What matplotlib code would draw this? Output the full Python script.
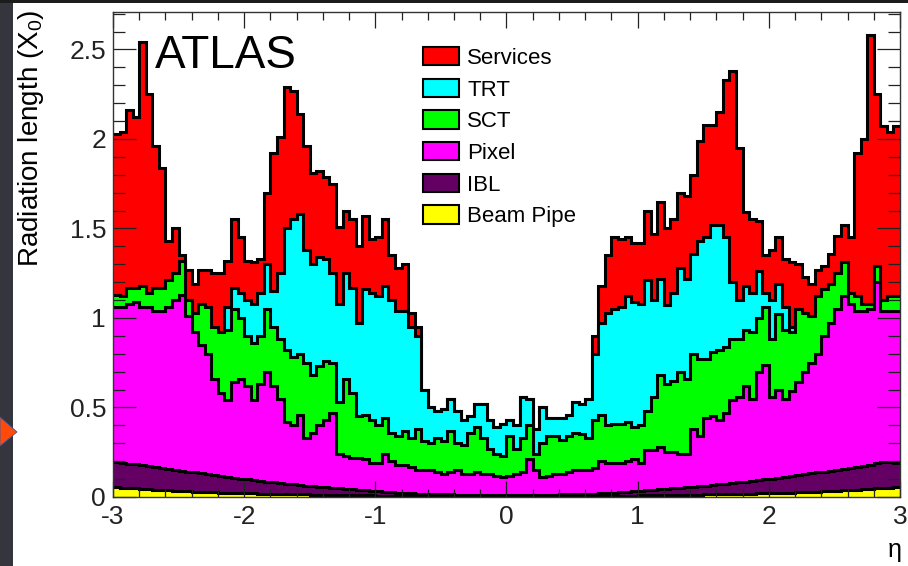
import matplotlib
matplotlib.use("Agg")
import matplotlib.pyplot as plt
import matplotlib.patches as mpatches
import numpy as np

plt.rcParams["font.family"] = ["Liberation Sans", "DejaVu Sans"]
plt.rcParams["mathtext.default"] = "regular"
plt.rcParams["axes.unicode_minus"] = False

# eta binning of the material scan (120 bins of 0.05)
eta_edges = np.linspace(-3, 3, 121)

# stacked tops (cumulative radiation length, X0)
services_top = [
    2.03, 2.04, 2.16, 2.12, 2.54, 2.25, 1.96, 1.84, 1.43, 1.50, 1.35, 1.27, 1.19, 1.27, 1.27, 1.25, 1.25, 1.32, 1.55, 1.45,
    1.32, 1.31, 1.33, 1.70, 1.92, 2.01, 2.29, 2.27, 2.14, 1.96, 1.81, 1.82, 1.79, 1.75, 1.51, 1.60, 1.55, 1.40, 1.57, 1.44,
    1.45, 1.55, 1.35, 1.28, 1.30, 1.03, 0.95, 0.60, 0.50, 0.48, 0.49, 0.55, 0.48, 0.43, 0.45, 0.52, 0.52, 0.43, 0.39, 0.41,
    0.43, 0.40, 0.56, 0.55, 0.38, 0.50, 0.44, 0.44, 0.44, 0.46, 0.53, 0.52, 0.55, 0.90, 1.18, 1.35, 1.45, 1.44, 1.45, 1.42,
    1.42, 1.60, 1.47, 1.65, 1.50, 1.55, 1.70, 1.68, 1.80, 1.99, 2.08, 2.08, 2.15, 2.33, 2.38, 1.95, 1.59, 1.55, 1.54, 1.35,
    1.38, 1.45, 1.33, 1.31, 1.30, 1.23, 1.19, 1.27, 1.29, 1.36, 1.46, 1.52, 1.45, 1.92, 2.00, 2.58, 2.25, 2.07, 2.04, 2.07,
]
trt_top = [
    1.13, 1.12, 1.17, 1.17, 1.18, 1.14, 1.17, 1.17, 1.21, 1.25, 1.32, 1.10, 1.03, 1.08, 1.06, 0.95, 0.92, 1.06, 1.17, 1.14,
    1.10, 1.08, 1.14, 1.30, 1.15, 1.25, 1.50, 1.55, 1.58, 1.38, 1.30, 1.34, 1.33, 1.25, 1.08, 1.25, 1.17, 0.97, 1.16, 1.14,
    1.12, 1.18, 1.10, 1.04, 1.04, 0.95, 0.90, 0.60, 0.50, 0.48, 0.49, 0.55, 0.48, 0.43, 0.45, 0.52, 0.52, 0.43, 0.39, 0.41,
    0.43, 0.40, 0.56, 0.55, 0.38, 0.50, 0.44, 0.44, 0.44, 0.46, 0.53, 0.52, 0.55, 0.80, 0.97, 1.03, 1.05, 1.06, 1.12, 1.09,
    1.08, 1.21, 1.10, 1.22, 1.07, 1.14, 1.28, 1.22, 1.36, 1.43, 1.45, 1.52, 1.52, 1.45, 1.20, 1.10, 1.18, 1.14, 1.26, 1.14,
    1.10, 1.19, 1.06, 0.95, 1.05, 1.03, 1.01, 1.12, 1.16, 1.19, 1.25, 1.31, 1.14, 1.12, 1.08, 1.08, 1.29, 1.10, 1.12, 1.12,
]
sct_top = [
    1.13, 1.12, 1.17, 1.17, 1.18, 1.14, 1.17, 1.17, 1.21, 1.25, 1.32, 1.10, 1.03, 1.08, 1.06, 0.95, 0.92, 0.93, 1.05, 1.00,
    0.90, 0.86, 0.90, 1.05, 0.95, 0.88, 0.82, 0.78, 0.80, 0.75, 0.68, 0.73, 0.76, 0.75, 0.53, 0.66, 0.58, 0.45, 0.46, 0.43,
    0.40, 0.44, 0.36, 0.34, 0.37, 0.33, 0.38, 0.31, 0.30, 0.33, 0.31, 0.37, 0.30, 0.29, 0.36, 0.39, 0.33, 0.27, 0.24, 0.23,
    0.34, 0.27, 0.33, 0.40, 0.24, 0.30, 0.34, 0.34, 0.32, 0.34, 0.36, 0.35, 0.33, 0.43, 0.46, 0.40, 0.41, 0.41, 0.42, 0.39,
    0.40, 0.48, 0.56, 0.68, 0.63, 0.65, 0.70, 0.66, 0.80, 0.77, 0.77, 0.81, 0.82, 0.84, 0.88, 0.88, 0.93, 0.92, 1.00, 1.06,
    0.88, 1.02, 0.93, 0.92, 1.05, 1.03, 1.01, 1.12, 1.16, 1.19, 1.25, 1.31, 1.14, 1.12, 1.08, 1.08, 1.29, 1.10, 1.12, 1.12,
]
pixel_top = [
    1.06, 1.06, 1.08, 1.09, 1.06, 1.06, 1.04, 1.04, 1.06, 1.10, 1.13, 1.01, 0.92, 0.85, 0.80, 0.66, 0.58, 0.54, 0.64, 0.66,
    0.62, 0.54, 0.63, 0.70, 0.62, 0.55, 0.42, 0.40, 0.46, 0.33, 0.36, 0.40, 0.43, 0.47, 0.24, 0.23, 0.22, 0.22, 0.21, 0.19,
    0.19, 0.24, 0.20, 0.18, 0.18, 0.17, 0.15, 0.15, 0.15, 0.14, 0.13, 0.14, 0.15, 0.13, 0.13, 0.14, 0.13, 0.13, 0.12, 0.11,
    0.12, 0.13, 0.14, 0.21, 0.15, 0.11, 0.12, 0.13, 0.13, 0.14, 0.15, 0.15, 0.15, 0.16, 0.20, 0.19, 0.19, 0.19, 0.20, 0.21,
    0.19, 0.26, 0.26, 0.28, 0.25, 0.25, 0.24, 0.24, 0.38, 0.34, 0.44, 0.45, 0.43, 0.47, 0.54, 0.56, 0.62, 0.55, 0.70, 0.74,
    0.56, 0.60, 0.55, 0.59, 0.64, 0.70, 0.75, 0.80, 0.90, 0.97, 1.05, 1.12, 1.08, 1.04, 1.04, 1.05, 1.20, 1.04, 1.04, 1.04,
]
ibl_top = [
    0.195, 0.190, 0.186, 0.182, 0.177, 0.172, 0.167, 0.162, 0.157, 0.152, 0.147, 0.142, 0.137, 0.132, 0.127, 0.122, 0.117, 0.112, 0.107, 0.102,
    0.098, 0.094, 0.090, 0.086, 0.082, 0.078, 0.074, 0.070, 0.067, 0.064, 0.061, 0.058, 0.055, 0.052, 0.049, 0.046, 0.043, 0.040, 0.037, 0.034,
    0.031, 0.029, 0.027, 0.025, 0.023, 0.021, 0.019, 0.018, 0.017, 0.016, 0.015, 0.014, 0.013, 0.013, 0.012, 0.012, 0.012, 0.011, 0.011, 0.011,
    0.011, 0.011, 0.011, 0.012, 0.012, 0.012, 0.013, 0.013, 0.014, 0.015, 0.016, 0.017, 0.018, 0.019, 0.021, 0.023, 0.025, 0.027, 0.029, 0.031,
    0.034, 0.037, 0.040, 0.043, 0.046, 0.049, 0.052, 0.055, 0.058, 0.061, 0.064, 0.067, 0.070, 0.074, 0.078, 0.082, 0.086, 0.090, 0.094, 0.098,
    0.102, 0.107, 0.112, 0.117, 0.122, 0.127, 0.132, 0.137, 0.142, 0.147, 0.152, 0.157, 0.162, 0.167, 0.172, 0.180, 0.188, 0.194, 0.196, 0.190,
]
beampipe_top = [
    0.056, 0.053, 0.050, 0.048, 0.045, 0.043, 0.041, 0.039, 0.037, 0.035, 0.033, 0.032, 0.030, 0.029, 0.028, 0.026, 0.025, 0.024, 0.023, 0.022,
    0.021, 0.020, 0.019, 0.018, 0.017, 0.016, 0.016, 0.015, 0.014, 0.014, 0.013, 0.013, 0.012, 0.012, 0.011, 0.011, 0.010, 0.010, 0.009, 0.009,
    0.008, 0.008, 0.008, 0.007, 0.007, 0.007, 0.007, 0.006, 0.006, 0.006, 0.006, 0.006, 0.006, 0.006, 0.006, 0.006, 0.006, 0.006, 0.006, 0.006,
    0.006, 0.006, 0.006, 0.006, 0.006, 0.006, 0.006, 0.006, 0.006, 0.006, 0.006, 0.006, 0.006, 0.007, 0.007, 0.007, 0.007, 0.008, 0.008, 0.008,
    0.009, 0.009, 0.010, 0.010, 0.011, 0.011, 0.012, 0.012, 0.013, 0.013, 0.014, 0.014, 0.015, 0.016, 0.016, 0.017, 0.018, 0.019, 0.020, 0.021,
    0.022, 0.023, 0.024, 0.025, 0.026, 0.028, 0.029, 0.030, 0.032, 0.033, 0.035, 0.037, 0.039, 0.041, 0.043, 0.045, 0.048, 0.050, 0.053, 0.056,
]

labels = ["Services", "TRT", "SCT", "Pixel", "IBL", "Beam Pipe"]
colors = ["#ff0000", "#00ffff", "#00ff00", "#ff00ff", "#640064", "#ffff00"]
layers = [services_top, trt_top, sct_top, pixel_top, ibl_top, beampipe_top]

fig = plt.figure(figsize=(9.08, 5.66), dpi=100, facecolor="white")

# dark slide border + orange pointer
fig.patches.append(mpatches.Rectangle((0, 0), 13 / 908, 1, transform=fig.transFigure,
                                      facecolor="#35353e", edgecolor="none"))
fig.patches.append(mpatches.Rectangle((0, 1 - 3 / 566), 1, 3 / 566, transform=fig.transFigure,
                                      facecolor="#1c1c1c", edgecolor="none"))
fig.patches.append(mpatches.Polygon([(0, 1 - 417 / 566), (17 / 908, 1 - 432 / 566), (0, 1 - 446 / 566)],
                                    closed=True, transform=fig.transFigure,
                                    facecolor="#ff4a0a", edgecolor="#3a5aa8", lw=0.6))

ax = fig.add_axes([113 / 908, 1 - 497 / 566, 787 / 908, 485 / 566])

# draw from the total down, fill then outline, like a ROOT THStack
for vals, c in zip(layers, colors):
    ax.stairs(vals, eta_edges, baseline=0, fill=True, color=c, lw=0)
    ax.stairs(vals, eta_edges, baseline=None, color="black", lw=2.2)

ax.set_xlim(-3, 3)
ax.set_ylim(0, 2.709)
ax.set_axisbelow(False)

ax.set_xticks(np.arange(-3, 4, 1))
ax.set_xticks(np.arange(-3, 3.01, 0.2), minor=True)
ax.set_yticks([0, 0.5, 1, 1.5, 2, 2.5])
ax.set_yticks(np.arange(0, 2.71, 0.1), minor=True)
ax.set_xticklabels(["-3", "-2", "-1", "0", "1", "2", "3"])
ax.set_yticklabels(["0", "0.5", "1", "1.5", "2", "2.5"])

ax.tick_params(which="both", direction="in", top=True, right=True, colors="#222222", width=0.9)
ax.tick_params(axis="x", which="major", length=11.5, labelsize=19, pad=6)
ax.tick_params(axis="x", which="minor", length=6)
ax.tick_params(axis="y", which="major", length=16.5, labelsize=19, pad=5)
ax.tick_params(axis="y", which="minor", length=8.6)
for sp in ax.spines.values():
    sp.set_color("#333333")
    sp.set_linewidth(1.0)
    sp.set_zorder(5)

fig.text(31 / 908, 1 - 10 / 566, "Radiation length (X$_0$)", rotation=90,
         ha="center", va="top", fontsize=20)
fig.text(902 / 908, 1 - 550 / 566, "η", ha="right", va="center", fontsize=18)
fig.text(155 / 908, 1 - 68 / 566, "ATLAS", ha="left", va="baseline", fontsize=33)

handles = [mpatches.Patch(facecolor=c, edgecolor="black", lw=1.5) for c in colors]
ax.legend(handles, labels, loc="upper left", bbox_to_anchor=(423 / 908, 1 - 47 / 566),
          bbox_transform=fig.transFigure, frameon=False, fontsize=16,
          handlelength=1.62, handleheight=0.9, labelspacing=0.44,
          handletextpad=0.36, borderpad=0, borderaxespad=0)

fig.savefig("out.png", dpi=100, facecolor=fig.get_facecolor())
